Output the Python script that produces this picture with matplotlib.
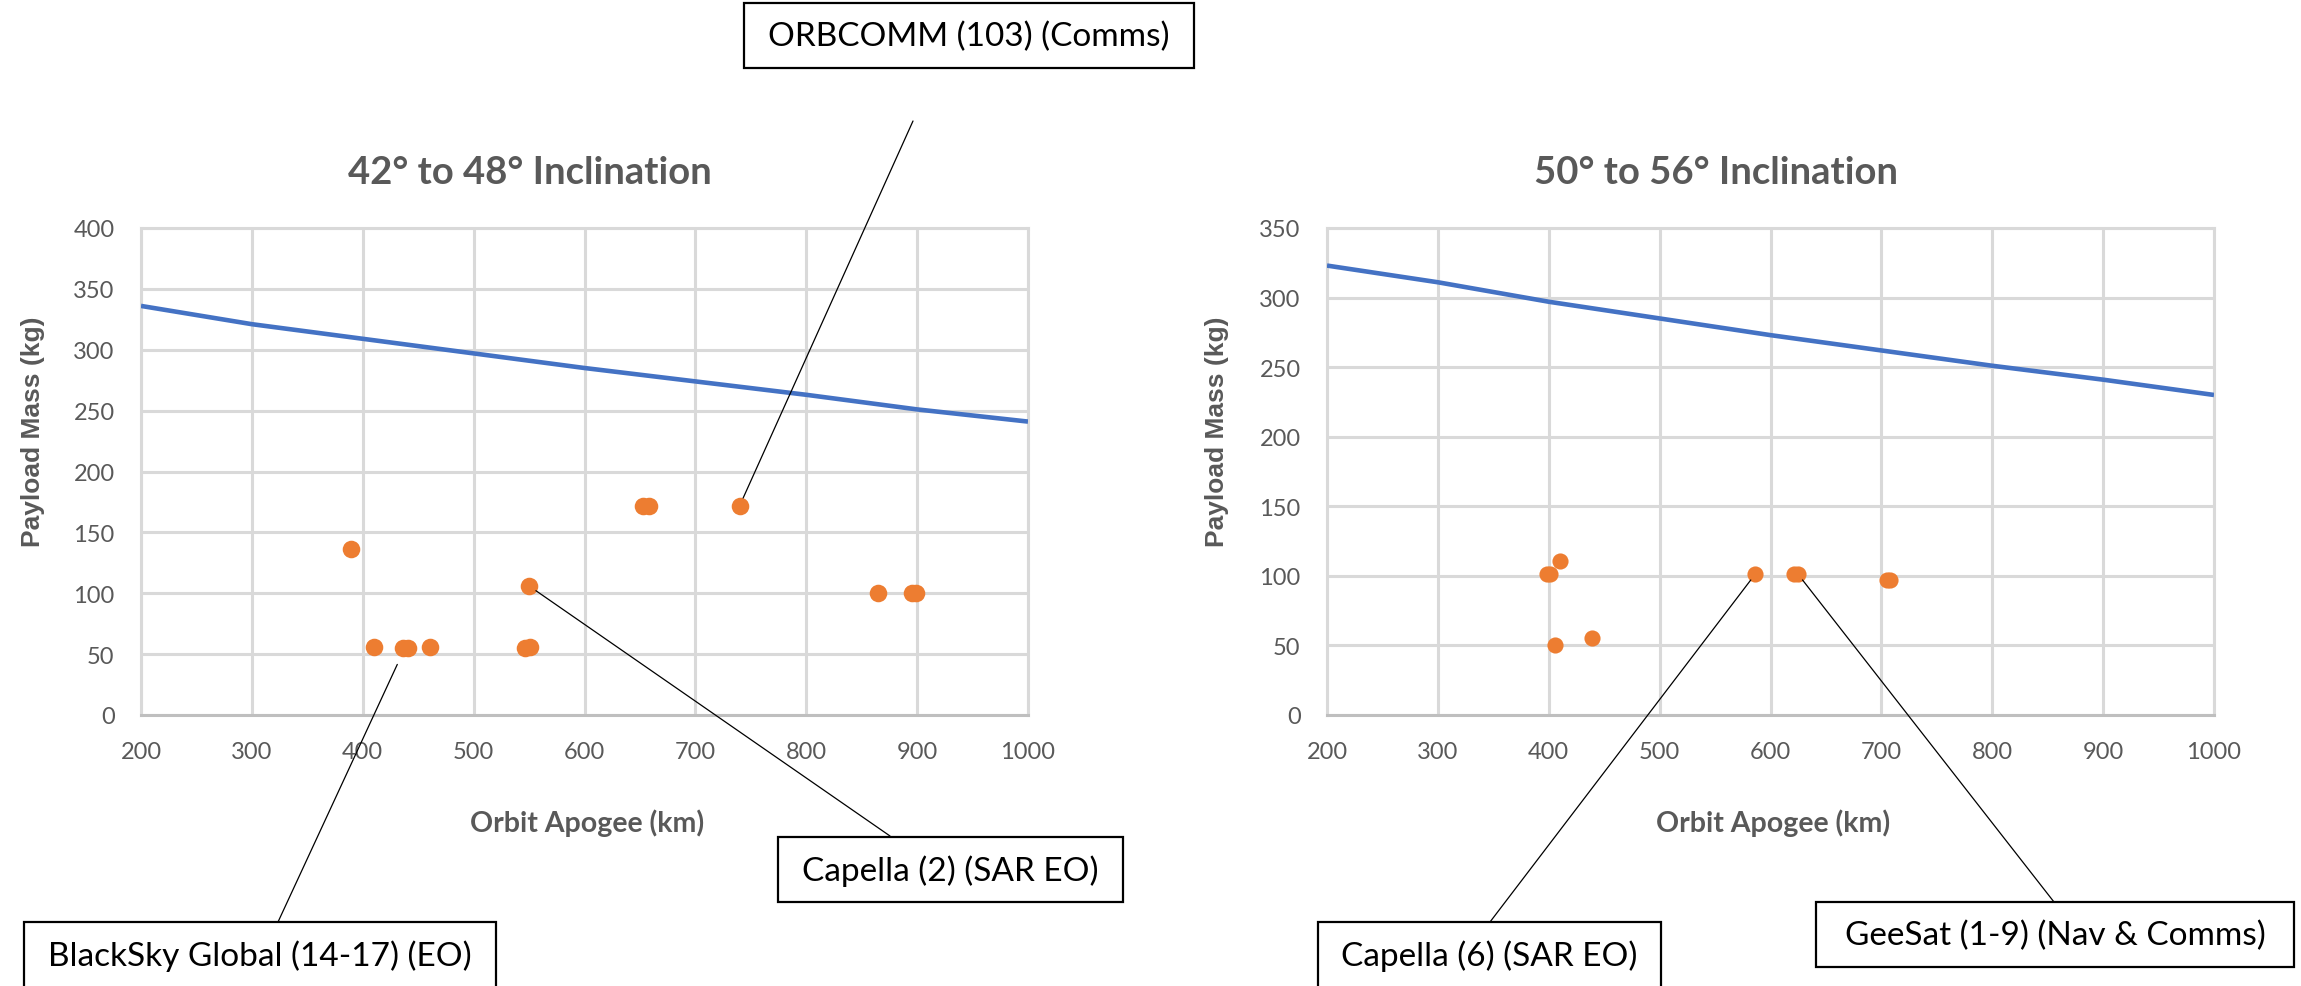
import matplotlib
matplotlib.use("Agg")
import matplotlib.pyplot as plt
from matplotlib.patches import Rectangle, ConnectionPatch

# ---------------- data ----------------
apogee_ticks = [200, 300, 400, 500, 600, 700, 800, 900, 1000]

# 42-48 deg inclination
cap_42 = [336, 321, 309, 297, 285, 274, 263, 251, 241]
sat_apogee_42 = [389, 410, 436, 441, 461, 546, 551, 550, 653, 658, 740, 865, 895, 899]
sat_mass_42 = [136, 56, 55, 55, 56, 55, 56, 106, 172, 172, 172, 100, 100, 100]

# 50-56 deg inclination
cap_50 = [323, 311, 297, 285, 273, 262, 251, 241, 230]
sat_apogee_50 = [398, 401, 410, 406, 439, 586, 621, 625, 705, 708]
sat_mass_50 = [101, 101, 111, 50, 55, 101, 101, 101, 97, 97]

titles = ["42\u00b0 to 48\u00b0 Inclination", "50\u00b0 to 56\u00b0 Inclination"]
y_max = [400, 350]
y_label = "Payload Mass (kg)"
x_label = "Orbit Apogee (km)"

# annotations: panel, label, point x, point y
annot_panel = [0, 0, 0, 1, 1]
annot_text = ["ORBCOMM (103) (Comms)", "Capella (2) (SAR EO)",
              "BlackSky Global (14-17) (EO)", "Capella (6) (SAR EO)",
              "GeeSat (1-9) (Nav & Comms)"]
annot_x = [740, 550, 438, 586, 625]
annot_y = [172, 106, 55, 101, 101]

# ---------------- style / layout ----------------
W, H = 2301, 987
fig = plt.figure(figsize=(W / 100, H / 100), dpi=100)

def fx(x):
    return x / W

def fy(y):
    return 1 - y / H

BLUE = "#4472C4"
ORANGE = "#ED7D31"
GRID = "#D9D9D9"
TXT = "#595959"

axes_left = [141, 1327]
ax_w = 887
ax_top, ax_bot = 229, 716

title_x = [530, 1716]
ylab_x = [33, 1217]
xlab_x = [587, 1773]

cap_series = [cap_42, cap_50]
sx = [sat_apogee_42, sat_apogee_50]
sy = [sat_mass_42, sat_mass_50]
msize = [160, 135]

axes = []
for i in range(2):
    ax = fig.add_axes([fx(axes_left[i]), fy(ax_bot), ax_w / W, (ax_bot - ax_top) / H])
    axes.append(ax)
    ax.plot(apogee_ticks, cap_series[i], color=BLUE, lw=3.3, zorder=3,
            solid_capstyle="butt")
    ax.scatter(sx[i], sy[i], s=msize[i], color=ORANGE, zorder=4, linewidths=0)
    ax.set_xlim(200, 1000)
    ax.set_ylim(0, y_max[i])
    ax.set_xticks(apogee_ticks)
    ax.set_yticks(range(0, y_max[i] + 1, 50))
    ax.grid(True, color=GRID, lw=2.2, zorder=0)
    ax.set_axisbelow(True)
    for s in ax.spines.values():
        s.set_color(GRID)
        s.set_linewidth(2.2)
    ax.spines["bottom"].set_color("#BFBFBF")
    ax.tick_params(length=0, pad=19, labelsize=17, labelcolor=TXT)
    for lab in ax.get_xticklabels() + ax.get_yticklabels():
        lab.set_fontfamily("Lato")
    fig.text(fx(title_x[i]), fy(173), titles[i], ha="center", va="center",
             fontsize=27.5, fontweight="bold", color=TXT, family="Lato")
    fig.text(fx(ylab_x[i]), fy(432), y_label, ha="center", va="center",
             rotation=90, fontsize=19, fontweight="bold", color=TXT,
             family="Liberation Sans")
    fig.text(fx(xlab_x[i]), fy(823), x_label, ha="center", va="center",
             fontsize=20.5, fontweight="bold", color=TXT, family="Lato")

# annotation boxes (pixel layout)
box_x0 = [744, 778, 24, 1318, 1816]
box_x1 = [1194, 1123, 496, 1661, 2294]
box_y0 = [4, 838, 923, 923, 903]
box_y1 = [69, 903, 990, 990, 968]
text_cy = [37, 871, 956, 956, 936]
lead_x = [913, 890, 278, 1490, 2054]
lead_y = [122, 837, 923, 923, 903]
shrink = [6, 6, 13, 5, 5]

for k in range(len(annot_text)):
    x0, x1, y0, y1 = box_x0[k], box_x1[k], box_y0[k], box_y1[k]
    rect = Rectangle((fx(x0), fy(y1)), (x1 - x0) / W, (y1 - y0) / H,
                     transform=fig.transFigure, facecolor="white",
                     edgecolor="black", lw=1.6, zorder=5)
    fig.patches.append(rect)
    fig.text(fx((x0 + x1) / 2), fy(text_cy[k]), annot_text[k], ha="center",
             va="center", fontsize=24, color="black", family="Lato", zorder=6)
    ax = axes[annot_panel[k]]
    con = ConnectionPatch(xyA=(annot_x[k], annot_y[k]), coordsA=ax.transData,
                          xyB=(fx(lead_x[k]), fy(lead_y[k])), coordsB=fig.transFigure,
                          color="black", lw=0.9, shrinkA=shrink[k], shrinkB=0,
                          zorder=7)
    fig.add_artist(con)

fig.savefig("out.png", dpi=100)
